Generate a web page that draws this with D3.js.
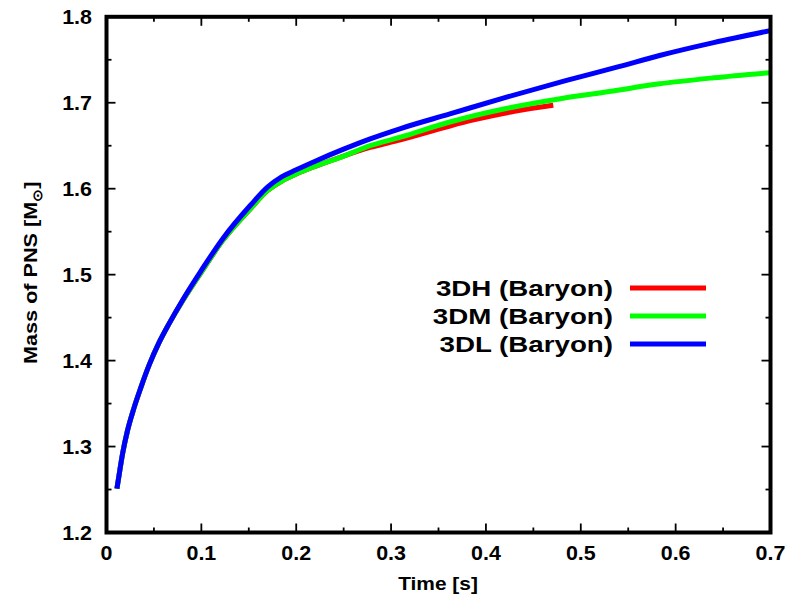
<!DOCTYPE html>
<html><head><meta charset="utf-8">
<script src="https://cdn.jsdelivr.net/npm/d3@7"></script>
<style>body{margin:0;background:#fff}svg{display:block}</style>
</head><body>
<script>
// ---- data ----
const seriesNames = ["3DH (Baryon)", "3DM (Baryon)", "3DL (Baryon)"];
const seriesColors = ["#ff0000", "#00ff00", "#0000ff"];
const time3DL = [0.011,0.014,0.017,0.022,0.029,0.036,0.045,0.055,0.066,0.080,0.100,0.122,0.152,0.170,0.185,0.200,0.220,0.250,0.278,0.310,0.362,0.420,0.485,0.540,0.583,0.640,0.700];
const mass3DL = [1.251,1.272,1.292,1.318,1.345,1.368,1.395,1.420,1.443,1.470,1.505,1.541,1.581,1.602,1.614,1.622,1.632,1.646,1.658,1.670,1.687,1.706,1.726,1.742,1.755,1.770,1.784];
const time3DM = [0.011,0.014,0.017,0.022,0.029,0.036,0.045,0.055,0.066,0.080,0.100,0.122,0.152,0.170,0.185,0.200,0.220,0.250,0.278,0.310,0.360,0.420,0.480,0.530,0.583,0.640,0.700];
const mass3DM = [1.251,1.272,1.292,1.318,1.345,1.368,1.395,1.420,1.443,1.469,1.503,1.539,1.577,1.598,1.609,1.617,1.626,1.638,1.650,1.660,1.677,1.693,1.705,1.713,1.722,1.729,1.735];
const time3DH = [0.011,0.014,0.017,0.022,0.029,0.036,0.045,0.055,0.066,0.080,0.100,0.122,0.152,0.170,0.185,0.200,0.220,0.250,0.278,0.310,0.362,0.387,0.430,0.471];
const mass3DH = [1.251,1.272,1.292,1.318,1.345,1.368,1.395,1.420,1.443,1.469,1.503,1.539,1.577,1.598,1.609,1.617,1.626,1.638,1.648,1.657,1.673,1.680,1.690,1.697];
const xTicks = [0,0.1,0.2,0.3,0.4,0.5,0.6,0.7];
const yTicks = [1.2,1.3,1.4,1.5,1.6,1.7,1.8];
const xLabel = "Time [s]";
const yLabelMain = "Mass of PNS [M";
const yLabelSub = "⊙";

const W = 787, H = 596;
const svg = d3.select("body").append("svg").attr("width", W).attr("height", H);
const x = d3.scaleLinear().domain([0, 0.7]).range([106.5, 770.5]);
const y = d3.scaleLinear().domain([1.2, 1.8]).range([532.5, 16.8]);
const FONT = "'Liberation Sans', Arial, Helvetica, sans-serif";

function stext(g, px, py, str, size, anchor, sx) {
  return g.append("g").attr("transform", `translate(${px},${py}) scale(${sx},1)`)
    .append("text").attr("font-family", FONT).attr("font-weight", "bold")
    .attr("font-size", size).attr("text-anchor", anchor).attr("fill", "#000").text(str);
}

// series
const series = [
  {t: time3DH, m: mass3DH},
  {t: time3DM, m: mass3DM},
  {t: time3DL, m: mass3DL}
];
const line = d3.line().x(d => x(d[0])).y(d => y(d[1])).curve(d3.curveMonotoneX);
series.forEach((s, i) => {
  const pts = s.t.map((t, k) => [t, s.m[k]]);
  svg.append("path").attr("d", line(pts)).attr("fill", "none")
    .attr("stroke", seriesColors[i]).attr("stroke-width", 5);
});

// ticks (inward, mirrored)
const ax = svg.append("g").attr("stroke", "#000").attr("stroke-width", 1.8);
const xMinor = d3.range(0.05, 0.7, 0.1);
const yMinor = d3.range(1.25, 1.8, 0.1);
xTicks.forEach(v => {
  ax.append("line").attr("x1", x(v)).attr("x2", x(v)).attr("y1", y(1.2)).attr("y2", y(1.2) - 9);
  ax.append("line").attr("x1", x(v)).attr("x2", x(v)).attr("y1", y(1.8)).attr("y2", y(1.8) + 9);
});
xMinor.forEach(v => {
  ax.append("line").attr("x1", x(v)).attr("x2", x(v)).attr("y1", y(1.2)).attr("y2", y(1.2) - 5);
  ax.append("line").attr("x1", x(v)).attr("x2", x(v)).attr("y1", y(1.8)).attr("y2", y(1.8) + 5);
});
yTicks.forEach(v => {
  ax.append("line").attr("y1", y(v)).attr("y2", y(v)).attr("x1", x(0)).attr("x2", x(0) + 9);
  ax.append("line").attr("y1", y(v)).attr("y2", y(v)).attr("x1", x(0.7)).attr("x2", x(0.7) - 9);
});
yMinor.forEach(v => {
  ax.append("line").attr("y1", y(v)).attr("y2", y(v)).attr("x1", x(0)).attr("x2", x(0) + 5);
  ax.append("line").attr("y1", y(v)).attr("y2", y(v)).attr("x1", x(0.7)).attr("x2", x(0.7) - 5);
});

// frame
svg.append("rect").attr("x", x(0)).attr("y", y(1.8))
  .attr("width", x(0.7) - x(0)).attr("height", y(1.2) - y(1.8))
  .attr("fill", "none").attr("stroke", "#000").attr("stroke-width", 4);

// tick labels
const lab = svg.append("g");
xTicks.forEach(v => stext(lab, x(v), 560, v === 0 ? "0" : d3.format(".1f")(v), 19.5, "middle", 1.1));
yTicks.forEach(v => stext(lab, 92, y(v) + 7, d3.format(".1f")(v), 19.5, "end", 1.1));

// axis titles
stext(svg, 438, 590, xLabel, 18.5, "middle", 1.13);
const yl = svg.append("g").attr("transform", "translate(37,364) rotate(-90) scale(1.17,1)")
  .append("text").attr("font-family", FONT).attr("font-weight", "bold").attr("font-size", 18.5)
  .attr("text-anchor", "start").attr("fill", "#000");
yl.append("tspan").text(yLabelMain);
yl.append("tspan").attr("font-size", 13).attr("dy", 5).text(yLabelSub);
yl.append("tspan").attr("dy", -5).text("]");

// legend
const legRows = [288, 316, 344];
seriesNames.forEach((n, i) => {
  stext(svg, 613, legRows[i] + 8, n, 22, "end", 1.26);
  svg.append("line").attr("x1", 630).attr("x2", 706).attr("y1", legRows[i]).attr("y2", legRows[i])
    .attr("stroke", seriesColors[i]).attr("stroke-width", 5);
});
</script>
</body></html>
